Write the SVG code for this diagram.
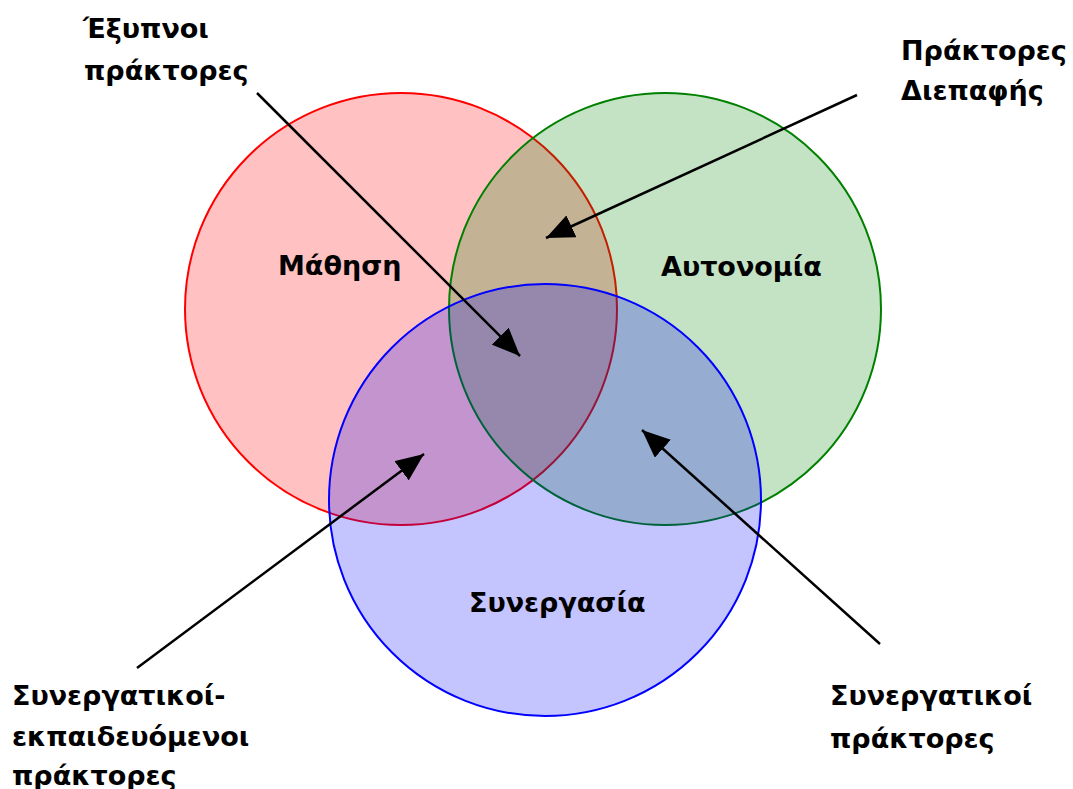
<svg xmlns="http://www.w3.org/2000/svg" width="1073" height="789" viewBox="0 0 1073 789">
<style>
text{font-family:"DejaVu Sans",Verdana,sans-serif;font-weight:bold;font-size:27px;fill:#000}
.c{stroke-width:2}
.a{stroke:#000;stroke-width:2.5;fill:none}
</style>
<defs>
<marker id="head" viewBox="0 0 28 24" refX="28" refY="12" markerWidth="28" markerHeight="24" markerUnits="userSpaceOnUse" orient="auto">
<path d="M0,0 L28,12 L0,24 Z" fill="#000"/>
</marker>
</defs>
<rect width="1073" height="789" fill="#fff"/>
<g id="mathisi">
<circle class="c" cx="401" cy="309" r="216" fill="#ff0000" fill-opacity="0.245" stroke="#ff0000"/>
</g>
<g id="aftonomia">
<circle class="c" cx="665" cy="309" r="216" fill="#008000" fill-opacity="0.23" stroke="#008000"/>
</g>
<g id="synergasia">
<circle class="c" cx="545" cy="500" r="216" fill="#0000ff" fill-opacity="0.23" stroke="#0000ff"/>
</g>
<g id="labels-circles">
<text x="278" y="275">Μάθηση</text>
<text x="661" y="276">Αυτονομία</text>
<text x="469" y="612">Συνεργασία</text>
</g>
<g id="connectors">
<line class="a" x1="257" y1="93" x2="520" y2="356" marker-end="url(#head)"/>
<line class="a" x1="857" y1="95" x2="546" y2="238" marker-end="url(#head)"/>
<line class="a" x1="137" y1="668" x2="424" y2="454" marker-end="url(#head)"/>
<line class="a" x1="880" y1="644" x2="642" y2="430" marker-end="url(#head)"/>
</g>
<g id="n-exypnoi">
<text x="83" y="38">Έξυπνοι</text>
<text x="84" y="80">πράκτορες</text>
</g>
<g id="n-diepafis">
<text x="901" y="60">Πράκτορες</text>
<text x="901" y="100">Διεπαφής</text>
</g>
<g id="n-synekp">
<text x="12" y="705">Συνεργατικοί-</text>
<text x="12" y="746">εκπαιδευόμενοι</text>
<text x="12" y="785">πράκτορες</text>
</g>
<g id="n-syn">
<text x="830" y="705">Συνεργατικοί</text>
<text x="830" y="748">πράκτορες</text>
</g>
</svg>
